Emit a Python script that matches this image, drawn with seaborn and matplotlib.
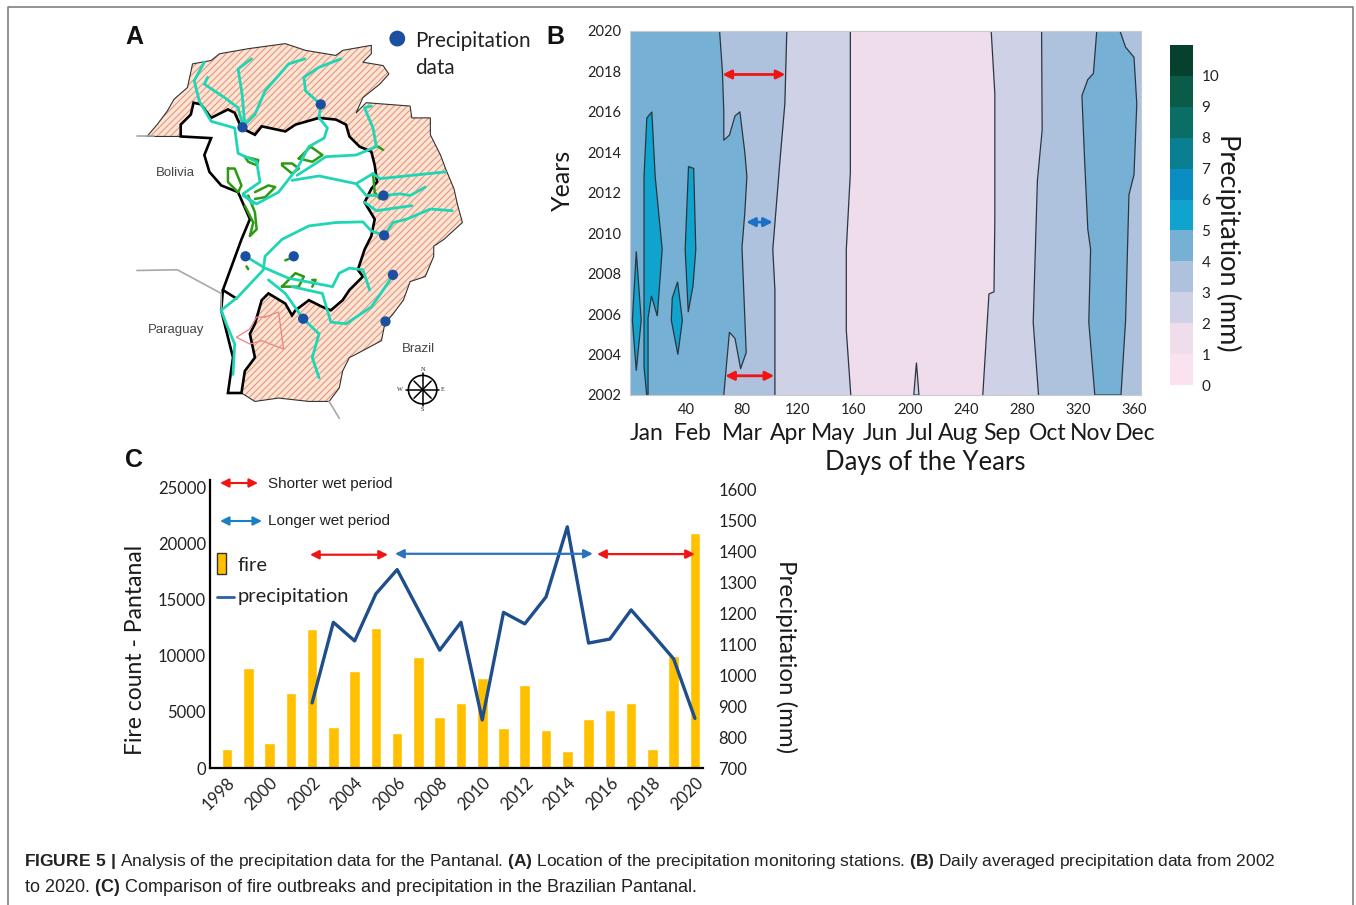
import numpy as np
import matplotlib
matplotlib.use('Agg')
import matplotlib.pyplot as plt
import seaborn as sns
from matplotlib.colors import ListedColormap, BoundaryNorm
from matplotlib.cm import ScalarMappable
from matplotlib.patches import Polygon, Rectangle

sns.set_style("white")
plt.rcParams['font.family'] = ['Lato', 'DejaVu Sans']
plt.rcParams['hatch.linewidth'] = 0.7
plt.rcParams['mathtext.fontset'] = 'custom'
plt.rcParams['mathtext.rm'] = 'Liberation Sans'
plt.rcParams['mathtext.bf'] = 'Liberation Sans:bold'

W, H = 1356, 905

# ---- panel C data
years = list(range(1998, 2021))
fire_count = [1700, 8900, 2250, 6700, 12400, 3700, 8700, 12500, 3150, 9900, 4550, 5800,
              8050, 3600, 7400, 3350, 1550, 4400, 5200, 5800, 1700, 10000, 21000]
precip_years = list(range(2002, 2021))
precip_mm = [910, 1170, 1110, 1262, 1340, 1210, 1080, 1170, 855, 1202, 1165, 1252,
             1478, 1103, 1116, 1210, 1132, 1052, 860]

# ---- panel B data, contour outlines as (day, year)
level_colors = ['#FBE2F0', '#EFDDEC', '#CFD2E6', '#AEC2DE', '#76B1D5', '#0FA3CD',
                '#0A8DC2', '#0A7F92', '#0A6E66', '#0A5C48', '#06402F']
edge_3_4_left = [(64, 2020), (66, 2018), (67, 2016), (67, 2014.6), (71, 2014.85), (75, 2015.8),
                 (78.5, 2016), (82, 2014), (83.5, 2012.8), (82, 2011), (80, 2009.3), (83, 2004.1),
                 (79, 2003.3), (75, 2004.8), (71, 2005.1), (67, 2002)]
edge_2_3_left = [(112, 2020), (110.6, 2016.4), (107, 2013.5), (102, 2009.2), (103.5, 2007.2), (103.5, 2002)]
edge_1_2_left = [(157.4, 2020), (157.4, 2013), (154.5, 2009.2), (154.5, 2005.2), (157.7, 2002)]
edge_1_2_right = [(258, 2020), (260.6, 2016.9), (260.6, 2010.7), (260, 2007.1), (256.4, 2007), (252, 2002)]
edge_2_3_right = [(294, 2020), (294.4, 2015.1), (291, 2012.6), (288, 2005.6), (291.8, 2002)]
blob_4_right = [(333.4, 2020), (331, 2017.9), (327, 2017.6), (322.8, 2016.8), (324.8, 2013.5), (327, 2010.2),
                (329, 2009.2), (327.7, 2005.6), (332, 2002), (350.7, 2002), (354, 2005.7), (356.4, 2011.9),
                (360, 2012.9), (362, 2016.4), (360, 2018.7), (354, 2019.2), (350, 2020)]
blobs_5 = [
    [(12, 2015.7), (15.6, 2016), (18, 2012.8), (23, 2009.2), (19.5, 2005.9), (15.3, 2006.9), (12.9, 2005.8),
     (12.9, 2002), (11.9, 2002), (10, 2003.4), (10, 2009.2), (10, 2012.8)],
    [(4.5, 2009.1), (8, 2005.7), (4.5, 2003.2), (1.7, 2005.7)],
    [(41.8, 2013.3), (45.5, 2013.2), (47, 2009.2), (45, 2007.4), (41.6, 2006.1), (39.4, 2009.2)],
    [(34, 2007.6), (37.4, 2005.7), (34.2, 2004), (29.5, 2005.7), (30.2, 2006.8)],
]
spike_2_mid = [(202.7, 2002), (204.6, 2003.6), (206.4, 2002)]
month_names = ['Jan', 'Feb', 'Mar', 'Apr', 'May', 'Jun', 'Jul', 'Aug', 'Sep', 'Oct', 'Nov', 'Dec']
month_days = [12, 45, 80, 113, 145, 179, 207, 234, 266, 298, 329, 361]

# ---- panel A data, outlines in map units
basin_outer = [(80, 345), (110, 310), (140, 270), (160, 235), (200, 200), (215, 130), (270, 120), (295, 100),
               (380, 85), (490, 70), (550, 90), (640, 105), (660, 90), (745, 75), (745, 100), (720, 125),
               (780, 135), (797, 160), (770, 190), (720, 230), (700, 275), (730, 245), (860, 255), (865, 290),
               (920, 290), (920, 340), (950, 400), (965, 440), (990, 500), (1000, 545), (1015, 600), (960, 650),
               (930, 670), (930, 700), (905, 760), (860, 775), (840, 830), (810, 870), (785, 900), (775, 950),
               (700, 990), (680, 1000), (660, 1040), (650, 1090), (620, 1130), (560, 1130), (470, 1120),
               (400, 1130), (360, 1105), (320, 1105), (335, 1000), (310, 900), (300, 860), (305, 800),
               (360, 650), (385, 590), (350, 510), (300, 490), (265, 450), (250, 400), (270, 350), (180, 345)]
wetland = [(180, 345), (180, 310), (210, 280), (218, 245), (240, 250), (270, 290), (320, 265), (340, 275),
           (360, 320), (400, 340), (420, 315), (490, 330), (520, 310), (590, 290), (640, 295), (670, 310),
           (680, 345), (710, 375), (745, 390), (755, 430), (762, 480), (745, 500), (725, 540), (755, 590),
           (745, 640), (725, 680), (705, 740), (720, 760), (680, 800), (660, 830), (625, 860), (600, 850),
           (560, 830), (520, 860), (510, 875), (490, 840), (440, 810), (420, 830), (400, 900), (385, 930),
           (400, 1000), (370, 1040), (360, 1105), (320, 1105), (335, 1000), (310, 900), (300, 860), (305, 800),
           (360, 650), (385, 590), (350, 510), (300, 490), (265, 450), (250, 400), (270, 350)]
west_lines = [[(305, 800), (345, 825)]]
rivers = [
    [(250, 125), (220, 180), (235, 240), (270, 300), (340, 320), (350, 395), (405, 420), (415, 480), (365, 515), (395, 545)],
    [(260, 170), (250, 190), (310, 230), (350, 260), (365, 315)],
    [(390, 115), (350, 145), (362, 220), (370, 310)],
    [(548, 115), (500, 130), (430, 210), (400, 280), (370, 310)],
    [(655, 115), (590, 140), (545, 170), (550, 210), (595, 250), (590, 290), (615, 320), (605, 350), (560, 375),
     (525, 440), (470, 510), (405, 545), (365, 520)],
    [(745, 255), (725, 260), (750, 320), (760, 375), (700, 400), (610, 405), (580, 425), (525, 460)],
    [(965, 450), (770, 470), (750, 455), (700, 485), (590, 462), (510, 475)],
    [(700, 485), (730, 520), (781, 520), (830, 515), (860, 520), (905, 495)],
    [(725, 540), (760, 565), (865, 550)],
    [(985, 565), (920, 560), (850, 590), (810, 600), (783, 638), (745, 625), (720, 598), (640, 600), (560, 610),
     (480, 650), (430, 700), (425, 740), (350, 820), (300, 860), (315, 900), (340, 960), (335, 1050)],
    [(372, 700), (430, 735), (500, 765), (630, 790), (650, 750), (680, 735), (720, 740), (740, 800)],
    [(810, 755), (780, 800), (745, 850), (670, 900), (625, 895), (600, 810), (510, 790)],
    [(440, 770), (490, 810), (543, 885), (590, 930), (570, 1000), (590, 1060)],
]
green_lines = [
    [(370, 405), (410, 415), (405, 430), (380, 420), (370, 405)],
    [(320, 440), (340, 440), (360, 490), (350, 510), (320, 480), (320, 440)],
    [(400, 510), (440, 490), (460, 495), (430, 525), (400, 530)],
    [(380, 520), (400, 570), (405, 620), (385, 640), (395, 600), (370, 550)],
    [(480, 425), (510, 425), (530, 440), (510, 455), (480, 430)],
    [(530, 410), (565, 375), (600, 400), (570, 420), (530, 410)],
    [(480, 790), (520, 750), (545, 760), (530, 790), (480, 790)],
    [(570, 770), (580, 770), (570, 790)],
    [(765, 375), (780, 385)],
    [(750, 455), (755, 510), (770, 530)],
    [(375, 730), (380, 738)],
    [(490, 712), (500, 708)],
]
pink_line = [(430, 880), (470, 865), (485, 975), (420, 950), (385, 960), (345, 940), (385, 915), (405, 880)]
gray_lines = [[(50, 345), (100, 345)], [(50, 742), (170, 740), (300, 810), (300, 860)], [(620, 1130), (650, 1180)]]
stations_x = [363, 595, 781, 783, 372, 515, 809, 543, 787]
stations_y = [318, 250, 520, 638, 700, 700, 755, 885, 893]
countries = ['Bolivia', 'Paraguay', 'Brazil']
countries_x = [163, 165, 885]
countries_y = [452, 917, 975]


def axes_px(left, top, right, bottom):
    return fig.add_axes([left / W, 1 - bottom / H, (right - left) / W, (bottom - top) / H])


def double_arrow(ax, x0, x1, y, color, lw=2.0):
    ax.annotate('', xy=(x0, y), xytext=(x1, y),
                arrowprops=dict(arrowstyle='<|-|>', color=color, lw=lw, mutation_scale=13,
                                shrinkA=0, shrinkB=0))


fig = plt.figure(figsize=(W / 100, H / 100), dpi=100, facecolor='white')

# A. Map
ax_a = axes_px(120, 20, 540, 420)
ax_a.set_xlim(0, 1245)
ax_a.set_ylim(1185, 0)
ax_a.axis('off')
ax_a.add_patch(Polygon(basin_outer, closed=True, facecolor='#FBE3D6', edgecolor='#E58F6E', hatch='/////', lw=0))
ax_a.plot(*zip(*(basin_outer + basin_outer[:1])), color='#333333', lw=0.8)
ax_a.add_patch(Polygon(wetland, closed=True, facecolor='white', edgecolor='black', lw=1.9, zorder=2))
for seg in west_lines:
    ax_a.plot(*zip(*seg), color='black', lw=1.9, zorder=2)
for seg in gray_lines:
    ax_a.plot(*zip(*seg), color='#A8A8A8', lw=1.2, zorder=3)
ax_a.plot(*zip(*(pink_line + pink_line[:1])), color='#F08080', lw=0.9, zorder=3)
for seg in green_lines:
    ax_a.plot(*zip(*seg), color='#2C9A12', lw=1.8, zorder=3)
for seg in rivers:
    ax_a.plot(*zip(*seg), color='#1FD6B4', lw=2.0, zorder=4)
ax_a.scatter(stations_x, stations_y, s=55, color='#1B4FA0', zorder=5, edgecolor='none')
ax_a.scatter([822], [55], s=130, color='#1B4FA0', zorder=5, edgecolor='none', clip_on=False)
for name, cx, cy in zip(countries, countries_x, countries_y):
    ax_a.text(cx, cy, name, family='Liberation Sans', fontsize=9.5, color='#444444', ha='center', va='center')
ax_a.text(875, 62, 'Precipitation', fontsize=14.9, color='#222222', va='center')
ax_a.text(875, 142, 'data', fontsize=14.9, color='#222222', va='center')
# compass
ax_a.scatter([897], [1095], s=420, facecolor='none', edgecolor='black', lw=1.2, zorder=5)
for ang in np.arange(0, 360, 45):
    r = 50 if ang % 90 == 0 else 36
    ax_a.plot([897, 897 + r * np.cos(np.radians(ang))], [1095, 1095 + r * np.sin(np.radians(ang))],
              color='black', lw=1.1, zorder=5)
for lab, dx, dy in [('N', 0, -60), ('S', 0, 60), ('W', -66, 0), ('E', 60, 0)]:
    ax_a.text(897 + dx, 1095 + dy, lab, fontsize=4.5, family='Liberation Serif', ha='center', va='center')

# B. Contours
ax_b = axes_px(630, 31, 1141, 395)
ax_b.set_xlim(0, 365)
ax_b.set_ylim(2002, 2020)
ax_b.set_facecolor(level_colors[3])
edge_kw = dict(edgecolor='#2B3540', lw=0.9)
ax_b.fill([0] + [p[0] for p in edge_3_4_left] + [0], [2020] + [p[1] for p in edge_3_4_left] + [2002],
          color=level_colors[4], lw=0)
ax_b.plot(*zip(*edge_3_4_left), color='#2B3540', lw=0.9)
ax_b.fill_betweenx([p[1] for p in edge_2_3_left], [p[0] for p in edge_2_3_left], 210, color=level_colors[2], lw=0)
ax_b.fill_betweenx([p[1] for p in edge_2_3_right], 195, [p[0] for p in edge_2_3_right], color=level_colors[2], lw=0)
ax_b.fill_betweenx([p[1] for p in edge_1_2_left], [p[0] for p in edge_1_2_left], 210, color=level_colors[1], lw=0)
ax_b.fill_betweenx([p[1] for p in edge_1_2_right], 195, [p[0] for p in edge_1_2_right], color=level_colors[1], lw=0)
for edge in [edge_2_3_left, edge_1_2_left, edge_1_2_right, edge_2_3_right]:
    ax_b.plot(*zip(*edge), color='#2B3540', lw=0.9)
ax_b.add_patch(Polygon(blob_4_right, closed=True, facecolor=level_colors[4], **edge_kw))
for blob in blobs_5:
    ax_b.add_patch(Polygon(blob, closed=True, facecolor=level_colors[5], **edge_kw))
ax_b.add_patch(Polygon(spike_2_mid, closed=True, facecolor=level_colors[2], **edge_kw))
double_arrow(ax_b, 66, 111, 2017.85, '#F01414')
double_arrow(ax_b, 68, 103, 2002.95, '#F01414')
double_arrow(ax_b, 83, 102, 2010.55, '#1C6FC8')
ax_b.set_xticks(range(40, 361, 40))
ax_b.set_yticks(range(2002, 2021, 2))
ax_b.tick_params(length=0, labelsize=10.5, labelcolor='#222222')
ax_b.tick_params(axis='x', pad=6)
ax_b.tick_params(axis='y', pad=6)
for side in ax_b.spines.values():
    side.set_color('#C8CBD0')
    side.set_linewidth(0.8)
for name, day in zip(month_names, month_days):
    ax_b.text(day, -38 / 364, name, transform=ax_b.get_xaxis_transform(), fontsize=16.5, color='#1A1A1A',
              ha='center', va='center')
ax_b.set_xlabel('Days of the Years', fontsize=18.5, color='#1A1A1A', va='center')
ax_b.xaxis.set_label_coords((925 - 630) / 511, -67 / 364)
ax_b.set_ylabel('Years', fontsize=18, color='#1A1A1A', va='center')
ax_b.yaxis.set_label_coords((562 - 630) / 511, (395 - 180) / 364)

# Colour scale
ax_cb = axes_px(1170, 45, 1193, 385)
cmap = ListedColormap(level_colors)
norm = BoundaryNorm(np.arange(0, 12), cmap.N)
cb = fig.colorbar(ScalarMappable(norm=norm, cmap=cmap), cax=ax_cb, ticks=np.arange(0, 11), spacing='proportional')
cb.outline.set_visible(False)
cb.ax.minorticks_off()
cb.ax.tick_params(length=0, labelsize=11, labelcolor='#222222', pad=6)
cb.ax.set_ylabel('Precipitation (mm)', rotation=270, fontsize=19.5, color='#1A1A1A', va='center')
cb.ax.yaxis.set_label_coords((1228 - 1170) / 23, (385 - 243) / 340)

# C. Fire and precipitation
ax_c = axes_px(210, 480, 703, 768)
sns.barplot(x=years, y=fire_count, native_scale=True, width=0.5, color='#FFC000', saturation=1, ax=ax_c, zorder=2)
ax_c.set_xlim(1997.2, 2020.38)
ax_c.set_ylim(0, 25714)
ax_c.set_yticks(range(0, 25001, 5000))
ax_c.set_xticks(range(1998, 2021, 2))
ax_c.set_xticklabels(range(1998, 2021, 2), rotation=45, ha='right', rotation_mode='anchor')
ax_c.tick_params(length=0, labelsize=12, labelcolor='#222222')
ax_c.tick_params(axis='x', pad=5)
ax_c.tick_params(axis='y', pad=3)
ax_c.spines['top'].set_visible(False)
ax_c.spines['right'].set_visible(False)
ax_c.spines['left'].set_color('black')
ax_c.spines['bottom'].set_color('black')
ax_c.spines['left'].set_linewidth(1.6)
ax_c.spines['bottom'].set_linewidth(1.6)
ax_c.set_ylabel('Fire count - Pantanal', fontsize=16.5, color='#1A1A1A', va='center')
ax_c.yaxis.set_label_coords((135 - 210) / 493, (768 - 650) / 288)

ax_p = ax_c.twinx()
sns.lineplot(x=precip_years, y=precip_mm, color='#1F4E8C', lw=2.4, ax=ax_p, zorder=3)
ax_p.set_ylim(700, 700 + 288 / 0.31)
ax_p.set_yticks(range(700, 1601, 100))
ax_p.tick_params(length=0, labelsize=12, labelcolor='#222222', pad=11)
for side in ax_p.spines.values():
    side.set_visible(False)
ax_p.set_ylabel('Precipitation (mm)', rotation=270, fontsize=17.3, color='#1A1A1A', va='center')
ax_p.yaxis.set_label_coords((786 - 210) / 493, (768 - 657) / 288)

double_arrow(ax_p, 2001.9, 2005.57, 1388, '#F01414', 1.6)
double_arrow(ax_p, 2005.9, 2015.2, 1391, '#2A72C0', 1.6)
double_arrow(ax_p, 2015.4, 2020, 1390, '#F01414', 1.6)

# Overlay for panel letters, keys, frame and caption, in picture pixels
pix = fig.add_axes([0, 0, 1, 1], facecolor='none')
pix.set_xlim(0, W)
pix.set_ylim(H, 0)
pix.axis('off')
pix.plot([8, 8, 1353, 1353], [H, 7, 7, H], color='#808080', lw=1.2)
for letter, x, y in [('A', 125, 37), ('B', 546, 37), ('C', 125, 460)]:
    pix.text(x, y, letter, family='Liberation Sans', fontweight='bold', fontsize=18, va='center', color='#111111')

double_arrow(pix, 220, 258, 483, '#F01414', 1.5)
double_arrow(pix, 220, 262, 521, '#1C7FC0', 1.5)
pix.text(268, 484, 'Shorter wet period', family='Liberation Sans', fontsize=11, va='center', color='#222222')
pix.text(268, 521, 'Longer wet period', family='Liberation Sans', fontsize=11, va='center', color='#222222')
pix.add_patch(Rectangle((217, 553), 9, 21, facecolor='#FFC000', edgecolor='#333333', lw=1))
pix.text(238, 565, 'fire', fontsize=14.5, va='center', color='#222222')
pix.plot([217, 234], [597, 597], color='#2F5FA8', lw=2)
pix.text(238, 596, 'precipitation', fontsize=14.5, va='center', color='#222222')

caption_1 = (r'$\mathbf{FIGURE\ 5\ |}$ Analysis of the precipitation data for the Pantanal. $\mathbf{(A)}$ '
             r'Location of the precipitation monitoring stations. $\mathbf{(B)}$ Daily averaged precipitation data from 2002')
caption_2 = (r'to 2020. $\mathbf{(C)}$ Comparison of fire outbreaks and precipitation in the Brazilian Pantanal.')
pix.text(24, 861, caption_1, family='Liberation Sans', fontsize=12.54, va='center', color='#222222')
pix.text(24, 887, caption_2, family='Liberation Sans', fontsize=13.0, va='center', color='#222222')

fig.savefig('out.png', dpi=100)
